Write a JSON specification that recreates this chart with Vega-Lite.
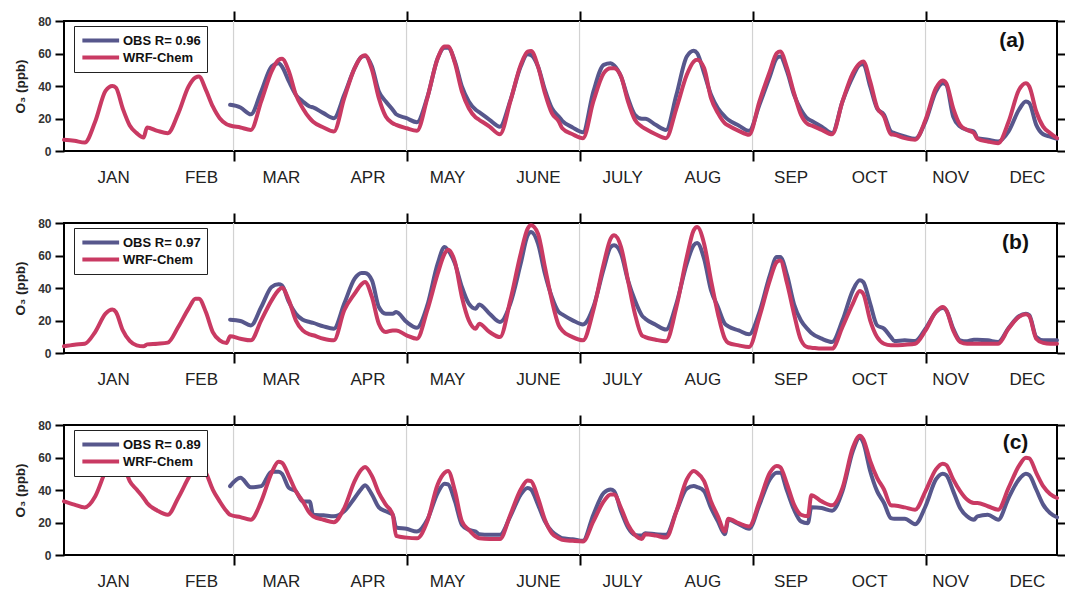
{
  "$schema": "https://vega.github.io/schema/vega-lite/v6.json",
  "padding": {"left": 12, "top": 9, "right": 0, "bottom": 0},
  "bounds": "flush",
  "spacing": 72,
  "config": {
    "font": "Liberation Sans",
    "view": {"stroke": "black", "strokeWidth": 2},
    "axis": {"domain": false, "grid": false, "tickColor": "black", "tickWidth": 2},
    "legend": {"orient": "none", "legendX": 10, "legendY": 5, "title": null, "symbolType": "M-1,0H5", "symbolSize": 150, "symbolStrokeWidth": 4,
               "labelFontSize": 13, "labelFontWeight": "bold", "labelColor": "#111", "labelOffset": 26, "rowPadding": -5, "padding": 6,
               "strokeColor": "#222", "fillColor": "white"}
  },
  "datasets": {
    "ticks": [{"t": 50}, {"t": 100}, {"t": 150}, {"t": 200}, {"t": 250}],
    "a": [
      {"h":1,"w":6.9},{"h":4,"w":6.3},{"h":7,"w":5.2},{"h":10,"w":18},{"h":13,"w":37},{"h":15,"w":40},{"h":16,"w":39},{"h":18,"w":26},{"h":20,"w":15.7},{"h":22,"w":11},{"h":24,"w":8.3},
      {"h":25,"w":14.5},{"h":28,"w":12.4},{"h":31,"w":11},{"h":34,"w":23},{"h":37,"w":39.7},{"h":39,"w":45.2},{"h":40,"w":45.8},{"h":42,"w":37.6},{"h":44,"w":27.4},{"h":46,"w":20.2},{"h":48,"w":16.5},
      {"h":49,"o":28.4,"w":15.7},{"h":52,"o":26.8,"w":14.5},{"h":55,"o":22.6,"w":13},{"h":58,"o":36.6,"w":30.5},{"h":61,"o":52,"w":49},{"h":63,"o":54,"w":56},{"h":64,"o":52,"w":56.7},{"h":66,"o":42.8,"w":49},{"h":68,"o":34.6,"w":34.7},{"h":70,"o":30.5,"w":26.3},{"h":72,"o":27.4,"w":20.2},
      {"h":73,"o":26.8,"w":18},{"h":76,"o":23.3,"w":14.5},{"h":79,"o":20.2,"w":12},{"h":82,"o":34.6,"w":32.5},{"h":85,"o":51,"w":51},{"h":87,"o":58,"w":58},{"h":88,"o":58.5,"w":59},{"h":90,"o":52,"w":50},{"h":92,"o":36.6,"w":32.5},{"h":94,"o":30.5,"w":21.2},{"h":96,"o":25.4,"w":17.1},
      {"h":97,"o":22.6,"w":16.1},{"h":100,"o":20.2,"w":14},{"h":103,"o":17.7,"w":12.4},{"h":106,"o":33,"w":32.5},{"h":109,"o":57,"w":57},{"h":111,"o":63.5,"w":64.3},{"h":112,"o":63.5,"w":64.3},{"h":114,"o":55,"w":54},{"h":116,"o":39.7,"w":36.6},{"h":118,"o":30.5,"w":26.3},{"h":120,"o":25.4,"w":20.6},
      {"h":121,"o":23.9,"w":19.2},{"h":124,"o":19.2,"w":15},{"h":127,"o":15,"w":10.3},{"h":130,"o":31,"w":30.5},{"h":133,"o":52,"w":53},{"h":135,"o":59.5,"w":61.2},{"h":136,"o":59,"w":61.6},{"h":138,"o":52,"w":52},{"h":140,"o":37.6,"w":35.6},{"h":142,"o":26.3,"w":23.3},{"h":144,"o":21.2,"w":18.2},
      {"h":145,"o":18.6,"w":14},{"h":148,"o":14.5,"w":10.3},{"h":151,"o":11.6,"w":7.9},{"h":154,"o":36.6,"w":30.5},{"h":157,"o":53,"w":47.9},{"h":159,"o":54,"w":51},{"h":160,"o":52.7,"w":51},{"h":162,"o":45.8,"w":45.8},{"h":164,"o":32.5,"w":30.5},{"h":166,"o":22.3,"w":19.2},{"h":168,"o":19.8,"w":15},
      {"h":169,"o":19.8,"w":13.7},{"h":172,"o":16.1,"w":10.3},{"h":175,"o":13,"w":7.9},{"h":178,"o":34.6,"w":26.3},{"h":181,"o":58.2,"w":46.9},{"h":183,"o":61.7,"w":55},{"h":184,"o":60.2,"w":56.1},{"h":186,"o":47.9,"w":51},{"h":188,"o":34.6,"w":32.5},{"h":190,"o":26.3,"w":23.3},{"h":192,"o":21.2,"w":17.1},
      {"h":193,"o":19.2,"w":15.7},{"h":196,"o":15.7,"w":12.4},{"h":199,"o":12.4,"w":10},{"h":202,"o":28.4,"w":30.5},{"h":205,"o":45.8,"w":48.9},{"h":207,"o":57.1,"w":60.2},{"h":208,"o":58.2,"w":61.2},{"h":210,"o":48.9,"w":51},{"h":212,"o":34.6,"w":35.6},{"h":214,"o":25.4,"w":22.3},{"h":216,"o":19.8,"w":16.5},
      {"h":217,"o":18.6,"w":15.7},{"h":220,"o":15,"w":13},{"h":223,"o":11,"w":10.3},{"h":226,"o":30.5,"w":30.5},{"h":229,"o":45.8,"w":47.9},{"h":231,"o":53,"w":54},{"h":232,"o":53.5,"w":55.1},{"h":234,"o":39.7,"w":42.8},{"h":236,"o":26.2,"w":26.8},{"h":238,"o":22.3,"w":21.2},{"h":240,"o":12,"w":10.3},
      {"h":241,"o":11,"w":10},{"h":244,"o":8.9,"w":7.9},{"h":247,"o":7.5,"w":6.9},{"h":250,"o":18.2,"w":19.2},{"h":253,"o":36.6,"w":38.6},{"h":255,"o":41.7,"w":43.4},{"h":256,"o":40.7,"w":41.7},{"h":258,"o":21.2,"w":26.3},{"h":260,"o":15,"w":16.1},{"h":262,"o":13,"w":13},{"h":264,"o":12,"w":11},
      {"h":265,"o":7.9,"w":7.5},{"h":268,"o":6.9,"w":5.8},{"h":271,"o":5.8,"w":4.8},{"h":274,"o":12,"w":18},{"h":277,"o":25.4,"w":37.6},{"h":279,"o":30.5,"w":41.7},{"h":280,"o":29.4,"w":39.7},{"h":282,"o":16.1,"w":24.3},{"h":284,"o":10.3,"w":15},{"h":286,"o":8.9,"w":11},{"h":288,"o":7.5,"w":7.9}
    ],
    "b": [
      {"h":1,"w":4.1},{"h":4,"w":5.1},{"h":7,"w":5.7},{"h":10,"w":12.9},{"h":13,"w":24.2},{"h":15,"w":26.7},{"h":16,"w":25.2},{"h":18,"w":13.9},{"h":20,"w":7.4},{"h":22,"w":4.7},{"h":24,"w":4.1},
      {"h":25,"w":5.3},{"h":28,"w":5.7},{"h":31,"w":6.4},{"h":34,"w":16},{"h":37,"w":27.3},{"h":39,"w":33.4},{"h":40,"w":33.4},{"h":42,"w":25.2},{"h":44,"w":12.9},{"h":46,"w":7.8},{"h":48,"w":6.2},
      {"h":49,"o":20.5,"w":10.3},{"h":52,"o":19.7,"w":8.8},{"h":55,"o":17,"w":7.8},{"h":58,"o":28.3,"w":20.1},{"h":61,"o":40.6,"w":32.4},{"h":63,"o":42.3,"w":38.6},{"h":64,"o":41.6,"w":40.2},{"h":66,"o":31.4,"w":32.4},{"h":68,"o":24.2,"w":20.1},{"h":70,"o":20.5,"w":13.9},{"h":72,"o":19.1,"w":11.5},
      {"h":73,"o":18.5,"w":10.9},{"h":76,"o":16.4,"w":8.8},{"h":79,"o":15,"w":7.8},{"h":82,"o":30.4,"w":26.3},{"h":85,"o":45.7,"w":36.5},{"h":87,"o":49.2,"w":42.3},{"h":88,"o":49.2,"w":43.7},{"h":90,"o":44.7,"w":34.5},{"h":92,"o":28.3,"w":18},{"h":94,"o":24.2,"w":12.9},{"h":96,"o":24.2,"w":13.9},
      {"h":97,"o":25.2,"w":13.9},{"h":100,"o":19.1,"w":10.9},{"h":103,"o":15.6,"w":8.8},{"h":106,"o":29.3,"w":26.3},{"h":109,"o":55,"w":48.8},{"h":111,"o":65.2,"w":61.1},{"h":112,"o":63.2,"w":63.6},{"h":114,"o":55,"w":56},{"h":116,"o":40.6,"w":34.5},{"h":118,"o":30.4,"w":20.1},{"h":120,"o":27.3,"w":15},
      {"h":121,"o":29.9,"w":18},{"h":124,"o":24.2,"w":12.9},{"h":127,"o":19.1,"w":9.8},{"h":130,"o":30.4,"w":32.4},{"h":133,"o":55,"w":61.1},{"h":135,"o":72.4,"w":76.5},{"h":136,"o":74.5,"w":78.6},{"h":138,"o":67.3,"w":73.4},{"h":140,"o":48.8,"w":52.9},{"h":142,"o":34.5,"w":32.4},{"h":144,"o":25.2,"w":17},
      {"h":145,"o":23.8,"w":13.9},{"h":148,"o":20.1,"w":9.8},{"h":151,"o":17.6,"w":7.8},{"h":154,"o":28.3,"w":26.3},{"h":157,"o":51.9,"w":55},{"h":159,"o":65.2,"w":70.4},{"h":160,"o":66.3,"w":72.4},{"h":162,"o":61.1,"w":65.2},{"h":164,"o":44.7,"w":44.7},{"h":166,"o":32.4,"w":24.2},{"h":168,"o":23.2,"w":10.9},
      {"h":169,"o":21.1,"w":9.8},{"h":172,"o":17.4,"w":8.2},{"h":175,"o":14.4,"w":7.2},{"h":178,"o":30.4,"w":28.3},{"h":181,"o":55,"w":59.1},{"h":183,"o":66.3,"w":75.5},{"h":184,"o":67.7,"w":77.5},{"h":186,"o":58,"w":67.3},{"h":188,"o":38.6,"w":44.7},{"h":190,"o":28.3,"w":24.2},{"h":192,"o":18,"w":8.8},
      {"h":193,"o":16.4,"w":6.2},{"h":196,"o":13.9,"w":4.7},{"h":199,"o":11.5,"w":3.7},{"h":202,"o":25.2,"w":22.2},{"h":205,"o":47.8,"w":44.7},{"h":207,"o":59.1,"w":56},{"h":208,"o":59.1,"w":57},{"h":210,"o":47.8,"w":42.7},{"h":212,"o":30,"w":24},{"h":214,"o":20,"w":8},{"h":216,"o":14.5,"w":3.5},
      {"h":217,"o":12.3,"w":3.3},{"h":220,"o":8.8,"w":2.7},{"h":223,"o":6.8,"w":2.7},{"h":226,"o":20.1,"w":16},{"h":229,"o":38.6,"w":30.4},{"h":231,"o":44.7,"w":38.2},{"h":232,"o":43.7,"w":36.5},{"h":234,"o":30.4,"w":20.1},{"h":236,"o":17,"w":9.8},{"h":238,"o":15,"w":5.7},{"h":240,"o":9.8,"w":4.7},
      {"h":241,"o":7.4,"w":4.7},{"h":244,"o":7.8,"w":5.1},{"h":247,"o":7.4,"w":5.7},{"h":250,"o":15,"w":13.9},{"h":253,"o":25.2,"w":25.2},{"h":255,"o":27.7,"w":28.3},{"h":256,"o":26.3,"w":26.3},{"h":258,"o":15,"w":13.9},{"h":260,"o":7.8,"w":6.8},{"h":262,"o":7.2,"w":5.7},{"h":264,"o":8.2,"w":5.7},
      {"h":265,"o":8.2,"w":5.7},{"h":268,"o":7.8,"w":5.7},{"h":271,"o":6.8,"w":5.7},{"h":274,"o":15.4,"w":15},{"h":277,"o":22.6,"w":22.2},{"h":279,"o":24.2,"w":23.8},{"h":280,"o":23.2,"w":22.6},{"h":282,"o":9.8,"w":8.8},{"h":284,"o":7.8,"w":6.2},{"h":286,"o":7.8,"w":5.7},{"h":288,"o":7.8,"w":5.7}
    ],
    "c": [
      {"h":1,"w":33},{"h":4,"w":31},{"h":7,"w":29.3},{"h":10,"w":36},{"h":13,"w":51.7},{"h":15,"w":60},{"h":16,"w":62},{"h":18,"w":56.8},{"h":20,"w":45.5},{"h":22,"w":40.3},{"h":24,"w":35.1},
      {"h":25,"w":32},{"h":28,"w":27.3},{"h":31,"w":24.8},{"h":34,"w":35.1},{"h":37,"w":47.5},{"h":39,"w":54.8},{"h":40,"w":55.8},{"h":42,"w":50.6},{"h":44,"w":40.3},{"h":46,"w":33},{"h":48,"w":26.9},
      {"h":49,"o":42.4,"w":24.8},{"h":52,"o":47.5,"w":23.3},{"h":55,"o":41.7,"w":21.7},{"h":58,"o":42.4,"w":33},{"h":61,"o":51.2,"w":50.6},{"h":63,"o":51.2,"w":57.4},{"h":64,"o":50,"w":56.8},{"h":66,"o":41.3,"w":48.6},{"h":68,"o":39.3,"w":39.3},{"h":70,"o":33,"w":33},{"h":72,"o":33,"w":25.8},
      {"h":73,"o":24.8,"w":23.8},{"h":76,"o":24.4,"w":21.7},{"h":79,"o":23.8,"w":20.2},{"h":82,"o":26.9,"w":28.9},{"h":85,"o":35.1,"w":45.5},{"h":87,"o":40.9,"w":52.7},{"h":88,"o":43,"w":54.1},{"h":90,"o":37.2,"w":48.6},{"h":92,"o":29.3,"w":38.2},{"h":94,"o":26.9,"w":31},{"h":96,"o":24.8,"w":24.8},
      {"h":97,"o":16.9,"w":11.8},{"h":100,"o":16.1,"w":10.7},{"h":103,"o":14.5,"w":10.3},{"h":106,"o":21.7,"w":20.7},{"h":109,"o":38.2,"w":43.4},{"h":111,"o":43.8,"w":50.6},{"h":112,"o":43.4,"w":51.7},{"h":114,"o":33,"w":39.3},{"h":116,"o":18.6,"w":20.7},{"h":118,"o":15.5,"w":15.5},{"h":120,"o":14.5,"w":11.4},
      {"h":121,"o":12.8,"w":10.3},{"h":124,"o":12.4,"w":9.9},{"h":127,"o":12.4,"w":9.9},{"h":130,"o":23.8,"w":24.8},{"h":133,"o":37.2,"w":40.3},{"h":135,"o":41.3,"w":45.9},{"h":136,"o":40.3,"w":45.5},{"h":138,"o":31,"w":35.1},{"h":140,"o":20.7,"w":21.7},{"h":142,"o":14.5,"w":13.4},{"h":144,"o":11.4,"w":10.3},
      {"h":145,"o":10.3,"w":9.3},{"h":148,"o":9.7,"w":8.7},{"h":151,"o":8.7,"w":8.3},{"h":154,"o":24.8,"w":20.7},{"h":157,"o":38.2,"w":33},{"h":159,"o":40.3,"w":37.2},{"h":160,"o":39.3,"w":37.2},{"h":162,"o":26.9,"w":28.9},{"h":164,"o":16.9,"w":18.6},{"h":166,"o":12.4,"w":12.4},{"h":168,"o":12,"w":9.9},
      {"h":169,"o":13.4,"w":12.8},{"h":172,"o":12.8,"w":12},{"h":175,"o":12.4,"w":10.7},{"h":178,"o":26.9,"w":26.9},{"h":181,"o":40.9,"w":46.5},{"h":183,"o":42.4,"w":51.7},{"h":184,"o":41.8,"w":50.6},{"h":186,"o":39.3,"w":45.5},{"h":188,"o":28.9,"w":33},{"h":190,"o":20.7,"w":23.8},{"h":192,"o":12.8,"w":14.5},
      {"h":193,"o":21.7,"w":22.3},{"h":196,"o":19,"w":19.6},{"h":199,"o":16.1,"w":17.6},{"h":202,"o":31,"w":33},{"h":205,"o":46.5,"w":50.6},{"h":207,"o":50.6,"w":54.8},{"h":208,"o":50.6,"w":54.1},{"h":210,"o":39.3,"w":43.4},{"h":212,"o":27.9,"w":31},{"h":214,"o":20.7,"w":24.8},{"h":216,"o":19.6,"w":23.8},
      {"h":217,"o":29.4,"w":36.8},{"h":220,"o":28.9,"w":33},{"h":223,"o":27.3,"w":30.6},{"h":226,"o":39.3,"w":41.3},{"h":229,"o":64,"w":66.1},{"h":231,"o":72.3,"w":73.4},{"h":232,"o":69.2,"w":71.3},{"h":234,"o":51.7,"w":57.9},{"h":236,"o":39.3,"w":47.5},{"h":238,"o":32,"w":40.3},{"h":240,"o":22.7,"w":30.6},
      {"h":241,"o":22.3,"w":30.4},{"h":244,"o":22.3,"w":29.3},{"h":247,"o":19,"w":27.9},{"h":250,"o":30,"w":39.3},{"h":253,"o":46.5,"w":52.7},{"h":255,"o":50,"w":56.2},{"h":256,"o":49.2,"w":55.4},{"h":258,"o":39.3,"w":46.5},{"h":260,"o":28.9,"w":39.3},{"h":262,"o":23.8,"w":34.1},{"h":264,"o":21.7,"w":32},
      {"h":265,"o":23.8,"w":32},{"h":268,"o":24.8,"w":30},{"h":271,"o":21.7,"w":27.9},{"h":274,"o":35.1,"w":41.3},{"h":277,"o":46.5,"w":54.8},{"h":279,"o":50,"w":59.9},{"h":280,"o":49.2,"w":59.5},{"h":282,"o":40.3,"w":50.6},{"h":284,"o":31,"w":42.4},{"h":286,"o":25.8,"w":37.6},{"h":288,"o":23.2,"w":35.1}
    ]
  },
  "resolve": {"scale": {"color": "independent"}, "legend": {"color": "independent"}},
  "vconcat": [
    {
      "width": 993, "height": 130,
      "resolve": {"axis": {"x": "independent", "y": "independent"}},
      "layer": [
        {"data": {"name": "ticks"}, "mark": {"type": "rule", "color": "#d2d2d2", "strokeWidth": 1.2},
         "encoding": {"x": {"field": "t", "type": "quantitative", "scale": {"domain": [1, 288], "nice": false, "zero": false}, "axis": null}}},
        {"data": {"name": "a"}, "transform": [{"fold": ["o", "w"], "as": ["k", "v"]}],
         "mark": {"type": "line", "strokeWidth": 4, "strokeJoin": "round", "strokeCap": "round", "interpolate": "monotone"},
         "encoding": {
           "x": {"field": "h", "type": "quantitative", "scale": {"domain": [1, 288], "nice": false, "zero": false},
                 "axis": {"orient": "bottom", "title": null, "values": [15.2, 40.6, 50, 63.7, 88.7, 100, 111.7, 138, 150, 162.3, 185.5, 200, 211, 233.7, 250, 257.1, 279.3],
                          "labelExpr": "datum.value % 50 == 0 ? '' : datum.value < 30 ? 'JAN' : datum.value < 50 ? 'FEB' : datum.value < 75 ? 'MAR' : datum.value < 100 ? 'APR' : datum.value < 125 ? 'MAY' : datum.value < 150 ? 'JUNE' : datum.value < 175 ? 'JULY' : datum.value < 200 ? 'AUG' : datum.value < 222 ? 'SEP' : datum.value < 245 ? 'OCT' : datum.value < 268 ? 'NOV' : 'DEC'",
                          "labelFontSize": 17, "labelColor": "#222", "labelPadding": 8, "labelFlush": false, "labelOverlap": false, "labelBaseline": "top",
                          "tickSize": 10, "tickOpacity": {"condition": {"test": "datum.value % 50 == 0", "value": 1}, "value": 0}}},
           "y": {"field": "v", "type": "quantitative", "scale": {"domain": [0, 80], "nice": false},
                 "axis": {"orient": "left", "values": [0, 20, 40, 60, 80], "title": "O₃ (ppb)", "titleFontSize": 13.5, "titleFontWeight": "bold", "titleColor": "#222", "titlePadding": 10,
                          "labelFontSize": 12, "labelFontWeight": "bold", "labelColor": "#333", "labelPadding": 4, "tickSize": 9}},
           "color": {"field": "k", "type": "nominal", "scale": {"domain": ["o", "w"], "range": ["#57578c", "#c93a63"]},
                     "legend": {"labelExpr": "datum.value == 'o' ? 'OBS R= 0.96' : 'WRF-Chem'"}}
         }},
        {"data": {"values": [{"h": 275, "v": 68, "lab": "(a)"}]},
         "mark": {"type": "text", "fontSize": 21, "fontWeight": "bold", "color": "#111"},
         "encoding": {
           "x": {"field": "h", "type": "quantitative", "scale": {"domain": [1, 288], "nice": false, "zero": false},
                 "axis": {"orient": "top", "values": [50, 100, 150, 200, 250], "labels": false, "title": null, "tickSize": 10}},
           "y": {"field": "v", "type": "quantitative", "scale": {"domain": [0, 80], "nice": false},
                 "axis": {"orient": "right", "values": [0, 20, 40, 60, 80], "labels": false, "title": null, "tickSize": 8}},
           "text": {"field": "lab"}
         }}
      ]
    },
    {
      "width": 993, "height": 130,
      "resolve": {"axis": {"x": "independent", "y": "independent"}},
      "layer": [
        {"data": {"name": "ticks"}, "mark": {"type": "rule", "color": "#d2d2d2", "strokeWidth": 1.2},
         "encoding": {"x": {"field": "t", "type": "quantitative", "scale": {"domain": [1, 288], "nice": false, "zero": false}, "axis": null}}},
        {"data": {"name": "b"}, "transform": [{"fold": ["o", "w"], "as": ["k", "v"]}],
         "mark": {"type": "line", "strokeWidth": 4, "strokeJoin": "round", "strokeCap": "round", "interpolate": "monotone"},
         "encoding": {
           "x": {"field": "h", "type": "quantitative", "scale": {"domain": [1, 288], "nice": false, "zero": false},
                 "axis": {"orient": "bottom", "title": null, "values": [15.2, 40.6, 50, 63.7, 88.7, 100, 111.7, 138, 150, 162.3, 185.5, 200, 211, 233.7, 250, 257.1, 279.3],
                          "labelExpr": "datum.value % 50 == 0 ? '' : datum.value < 30 ? 'JAN' : datum.value < 50 ? 'FEB' : datum.value < 75 ? 'MAR' : datum.value < 100 ? 'APR' : datum.value < 125 ? 'MAY' : datum.value < 150 ? 'JUNE' : datum.value < 175 ? 'JULY' : datum.value < 200 ? 'AUG' : datum.value < 222 ? 'SEP' : datum.value < 245 ? 'OCT' : datum.value < 268 ? 'NOV' : 'DEC'",
                          "labelFontSize": 17, "labelColor": "#222", "labelPadding": 8, "labelFlush": false, "labelOverlap": false, "labelBaseline": "top",
                          "tickSize": 10, "tickOpacity": {"condition": {"test": "datum.value % 50 == 0", "value": 1}, "value": 0}}},
           "y": {"field": "v", "type": "quantitative", "scale": {"domain": [0, 80], "nice": false},
                 "axis": {"orient": "left", "values": [0, 20, 40, 60, 80], "title": "O₃ (ppb)", "titleFontSize": 13.5, "titleFontWeight": "bold", "titleColor": "#222", "titlePadding": 10,
                          "labelFontSize": 12, "labelFontWeight": "bold", "labelColor": "#333", "labelPadding": 4, "tickSize": 9}},
           "color": {"field": "k", "type": "nominal", "scale": {"domain": ["o", "w"], "range": ["#57578c", "#c93a63"]},
                     "legend": {"labelExpr": "datum.value == 'o' ? 'OBS R= 0.97' : 'WRF-Chem'"}}
         }},
        {"data": {"values": [{"h": 276, "v": 68, "lab": "(b)"}]},
         "mark": {"type": "text", "fontSize": 21, "fontWeight": "bold", "color": "#111"},
         "encoding": {
           "x": {"field": "h", "type": "quantitative", "scale": {"domain": [1, 288], "nice": false, "zero": false},
                 "axis": {"orient": "top", "values": [50, 100, 150, 200, 250], "labels": false, "title": null, "tickSize": 10}},
           "y": {"field": "v", "type": "quantitative", "scale": {"domain": [0, 80], "nice": false},
                 "axis": {"orient": "right", "values": [0, 20, 40, 60, 80], "labels": false, "title": null, "tickSize": 8}},
           "text": {"field": "lab"}
         }}
      ]
    },
    {
      "width": 993, "height": 130,
      "resolve": {"axis": {"x": "independent", "y": "independent"}},
      "layer": [
        {"data": {"name": "ticks"}, "mark": {"type": "rule", "color": "#d2d2d2", "strokeWidth": 1.2},
         "encoding": {"x": {"field": "t", "type": "quantitative", "scale": {"domain": [1, 288], "nice": false, "zero": false}, "axis": null}}},
        {"data": {"name": "c"}, "transform": [{"fold": ["o", "w"], "as": ["k", "v"]}],
         "mark": {"type": "line", "strokeWidth": 4, "strokeJoin": "round", "strokeCap": "round", "interpolate": "monotone"},
         "encoding": {
           "x": {"field": "h", "type": "quantitative", "scale": {"domain": [1, 288], "nice": false, "zero": false},
                 "axis": {"orient": "bottom", "title": null, "values": [15.2, 40.6, 50, 63.7, 88.7, 100, 111.7, 138, 150, 162.3, 185.5, 200, 211, 233.7, 250, 257.1, 279.3],
                          "labelExpr": "datum.value % 50 == 0 ? '' : datum.value < 30 ? 'JAN' : datum.value < 50 ? 'FEB' : datum.value < 75 ? 'MAR' : datum.value < 100 ? 'APR' : datum.value < 125 ? 'MAY' : datum.value < 150 ? 'JUNE' : datum.value < 175 ? 'JULY' : datum.value < 200 ? 'AUG' : datum.value < 222 ? 'SEP' : datum.value < 245 ? 'OCT' : datum.value < 268 ? 'NOV' : 'DEC'",
                          "labelFontSize": 17, "labelColor": "#222", "labelPadding": 8, "labelFlush": false, "labelOverlap": false, "labelBaseline": "top",
                          "tickSize": 10, "tickOpacity": {"condition": {"test": "datum.value % 50 == 0", "value": 1}, "value": 0}}},
           "y": {"field": "v", "type": "quantitative", "scale": {"domain": [0, 80], "nice": false},
                 "axis": {"orient": "left", "values": [0, 20, 40, 60, 80], "title": "O₃ (ppb)", "titleFontSize": 13.5, "titleFontWeight": "bold", "titleColor": "#222", "titlePadding": 10,
                          "labelFontSize": 12, "labelFontWeight": "bold", "labelColor": "#333", "labelPadding": 4, "tickSize": 9}},
           "color": {"field": "k", "type": "nominal", "scale": {"domain": ["o", "w"], "range": ["#57578c", "#c93a63"]},
                     "legend": {"labelExpr": "datum.value == 'o' ? 'OBS R= 0.89' : 'WRF-Chem'"}}
         }},
        {"data": {"values": [{"h": 276, "v": 69, "lab": "(c)"}]},
         "mark": {"type": "text", "fontSize": 21, "fontWeight": "bold", "color": "#111"},
         "encoding": {
           "x": {"field": "h", "type": "quantitative", "scale": {"domain": [1, 288], "nice": false, "zero": false},
                 "axis": {"orient": "top", "values": [50, 100, 150, 200, 250], "labels": false, "title": null, "tickSize": 10}},
           "y": {"field": "v", "type": "quantitative", "scale": {"domain": [0, 80], "nice": false},
                 "axis": {"orient": "right", "values": [0, 20, 40, 60, 80], "labels": false, "title": null, "tickSize": 8}},
           "text": {"field": "lab"}
         }}
      ]
    }
  ]
}
